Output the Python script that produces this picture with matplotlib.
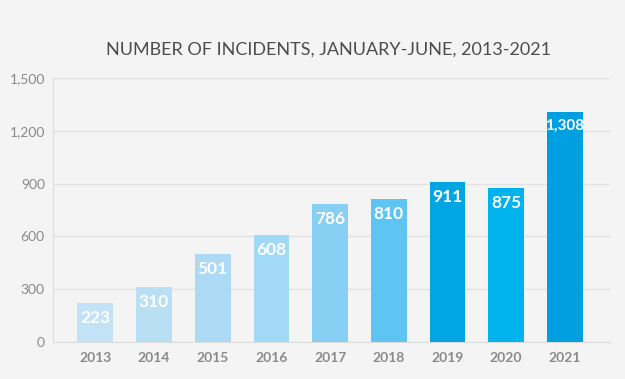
import matplotlib
matplotlib.use("Agg")
import matplotlib.pyplot as plt

years = ["2013", "2014", "2015", "2016", "2017", "2018", "2019", "2020", "2021"]
incidents = [223, 310, 501, 608, 786, 810, 911, 875, 1308]
colors = ["#c2e3f6", "#b9dff5", "#acd9f3", "#a1d9f6", "#88cff4",
          "#5ec4f1", "#00a5e2", "#00b3ec", "#009fe0"]
yticks = [0, 300, 600, 900, 1200, 1500]

plt.rcParams['font.family'] = ['Lato', 'DejaVu Sans']

fig = plt.figure(figsize=(6.25, 3.79), dpi=100, facecolor="#f4f4f4")
ax = fig.add_axes([0.085, 0.0976, 0.891, 0.697], facecolor="#f4f4f4")

x = range(len(years))
bars = ax.bar(x, incidents, width=0.61, color=colors, zorder=3)

for b, v in zip(bars, incidents):
    ax.annotate(f"{v:,}", (b.get_x() + b.get_width() / 2, v),
                xytext=(0, -5), textcoords="offset points",
                ha="center", va="top", color="white", fontweight="bold",
                fontsize=11 if v >= 1000 else 12.5)

ax.set_xlim(-0.72, len(years) - 1 + 0.77)
ax.set_ylim(0, 1500)
ax.set_yticks(yticks)
ax.set_yticklabels([f"{t:,}" for t in yticks])
ax.set_xticks(list(x))
ax.set_xticklabels(years, fontweight="bold")
ax.tick_params(axis="y", length=0, labelsize=10, labelcolor="#8a8a8a", pad=6)
ax.tick_params(axis="x", length=0, labelsize=10, labelcolor="#8a8a8a", pad=7)
ax.grid(axis="y", color="#e2e2e2", linewidth=1, zorder=0)
for s in ["top", "right"]:
    ax.spines[s].set_visible(False)
ax.spines["left"].set_color("#dddddd")
ax.spines["bottom"].set_color("#dddddd")

fig.text(0.525, 0.868, "NUMBER OF INCIDENTS, JANUARY-JUNE, 2013-2021",
         ha="center", va="center", fontsize=13, color="#4d4d4d",
         fontweight="normal")

fig.savefig("out.png", dpi=100, facecolor=fig.get_facecolor())
